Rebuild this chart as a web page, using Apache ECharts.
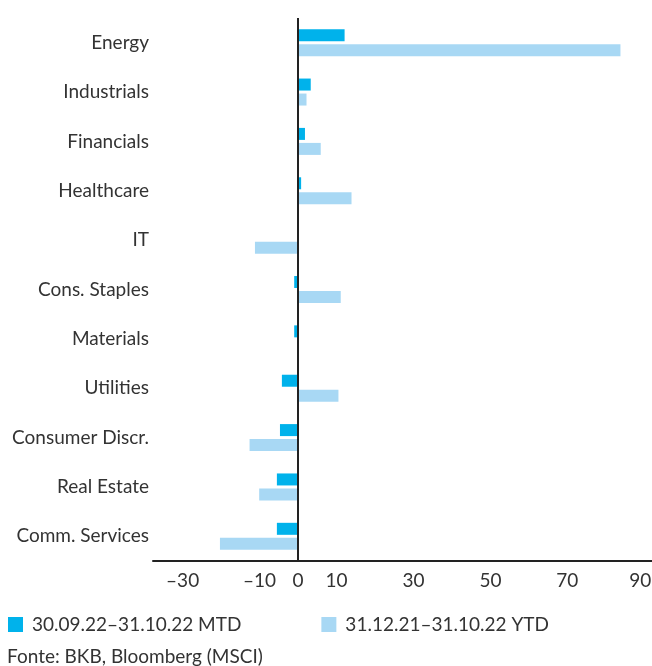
<!DOCTYPE html>
<html>
<head>
<meta charset="utf-8">
<style>
  html, body { margin: 0; padding: 0; background: #fff; }
  #chart { width: 652px; height: 666px; }
</style>
<script src="https://cdn.jsdelivr.net/npm/echarts@6/dist/echarts.min.js"></script>
</head>
<body>
<div id="chart"></div>
<script>
// sector performance, MSCI, in %
const sectors = ['Energy', 'Industrials', 'Financials', 'Healthcare', 'IT', 'Cons. Staples',
  'Materials', 'Utilities', 'Consumer Discr.', 'Real Estate', 'Comm. Services'];
const mtd = [12.1, 3.3, 1.8, 0.8, 0, -1.0, -1.0, -4.2, -4.7, -5.5, -5.5];
const ytd = [83.8, 2.2, 5.9, 13.9, -11.2, 11.1, 0, 10.5, -12.6, -10.1, -20.3];
const xTicks = [-30, -10, 0, 10, 30, 50, 70, 90];

const FONT = 'Lato, "Open Sans", sans-serif';
const TEXT = '#333333';
const lastTick = xTicks[xTicks.length - 1];
// en dash for negatives; the last label gets nudged left a little so it stays on the canvas
const fmtTick = (v) => {
  const s = v < 0 ? '\u2013' + Math.abs(v) : String(v);
  return v === lastTick ? '{last|' + s + '}' : s;
};

const chart = echarts.init(document.getElementById('chart'), null, { renderer: 'canvas' });

chart.setOption({
  animation: false,
  backgroundColor: '#ffffff',
  textStyle: { fontFamily: FONT },
  // v6 shrinks the grid to keep labels inside by default; the "90" label sits on the edge here
  grid: { left: 153, right: 0, top: 18, bottom: 105, containLabel: false, outerBoundsMode: 'none' },
  title: {
    text: 'Fonte: BKB, Bloomberg (MSCI)',
    left: 7,
    top: 647,
    padding: 0,
    textStyle: { fontFamily: FONT, fontSize: 19, fontWeight: 'normal', color: TEXT },
  },
  legend: {
    left: 8,
    top: 615,
    padding: 0,
    itemWidth: 15,
    itemHeight: 15,
    itemGap: 80,
    icon: 'rect',
    textStyle: { fontFamily: FONT, fontSize: 19, color: TEXT, padding: [0, 0, 0, 4] },
    data: ['30.09.22\u201331.10.22 MTD', '31.12.21\u201331.10.22 YTD'],
  },
  xAxis: {
    type: 'value',
    min: -37.7,
    max: 92,
    axisLine: { show: true, lineStyle: { color: '#222222', width: 2 } },
    axisTick: { show: false },
    splitLine: { show: false },
    axisLabel: {
      customValues: xTicks,
      formatter: fmtTick,
      color: TEXT,
      fontSize: 19,
      fontFamily: FONT,
      margin: 10,
      rich: {
        last: { color: TEXT, fontSize: 19, fontFamily: FONT, padding: [0, 8, 0, 0] },
      },
    },
  },
  yAxis: {
    type: 'category',
    inverse: true,
    data: sectors,
    axisLine: { show: false, onZero: false },
    axisTick: { show: false },
    splitLine: { show: false },
    axisLabel: { color: TEXT, fontSize: 19, fontFamily: FONT, margin: 4 },
  },
  series: [
    {
      name: '30.09.22\u201331.10.22 MTD',
      type: 'bar',
      data: mtd,
      barWidth: 12,
      barGap: '25%',
      itemStyle: { color: '#00B2EB' },
      markLine: {
        silent: true,
        symbol: ['none', 'none'],
        label: { show: false },
        lineStyle: { color: '#222222', width: 2, type: 'solid' },
        data: [{ xAxis: 0 }],
      },
    },
    {
      name: '31.12.21\u201331.10.22 YTD',
      type: 'bar',
      data: ytd,
      barWidth: 12,
      barGap: '25%',
      itemStyle: { color: '#A8D8F4' },
    },
  ],
});
</script>
</body>
</html>
